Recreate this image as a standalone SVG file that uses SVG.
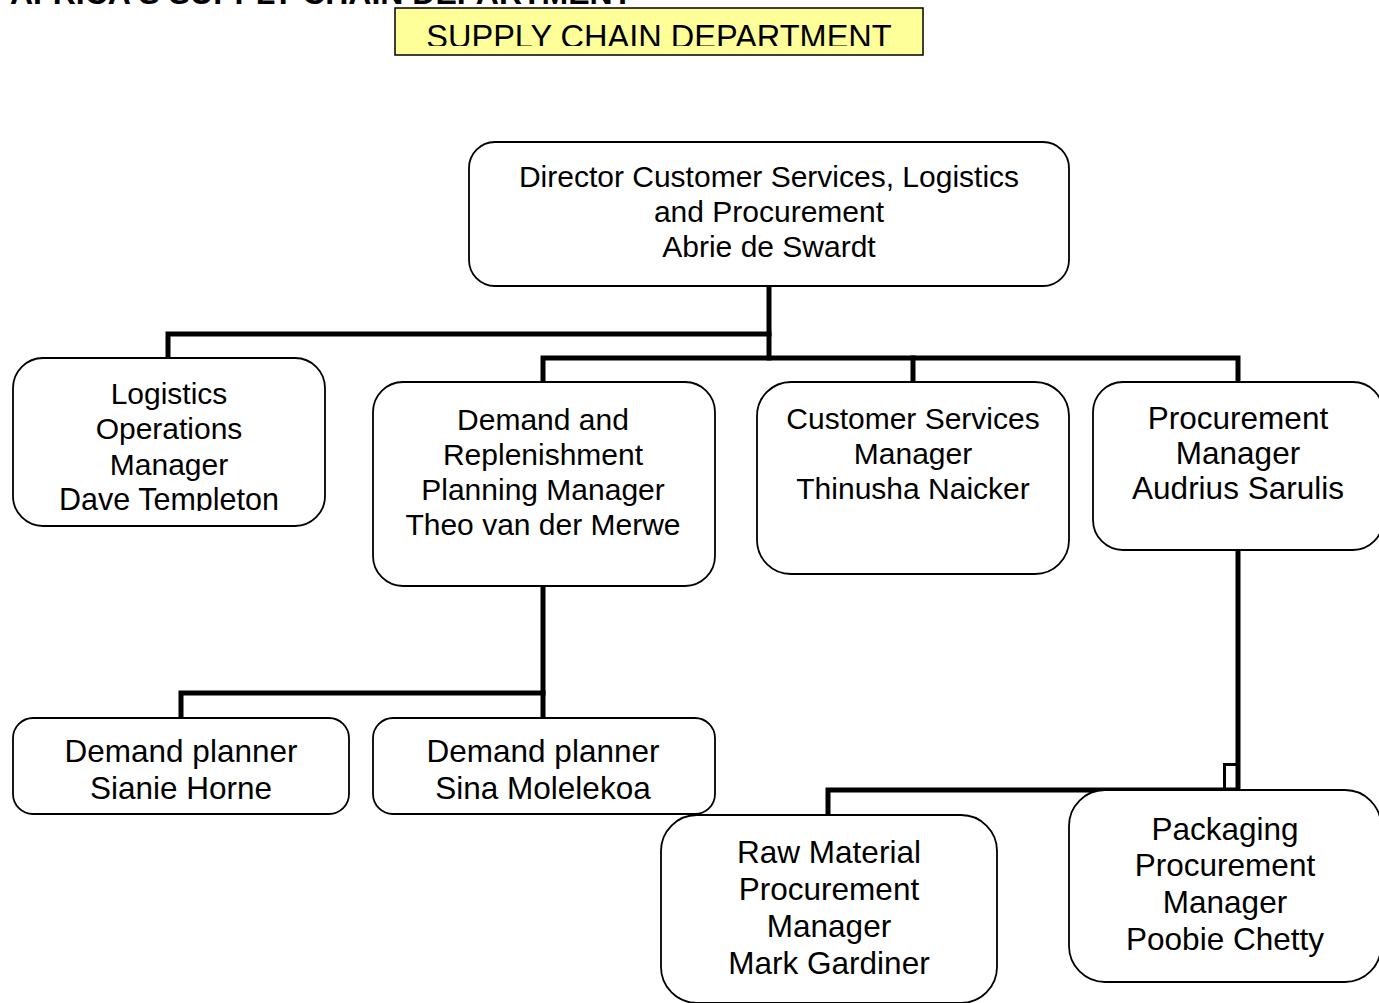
<svg xmlns="http://www.w3.org/2000/svg" width="1379" height="1003" viewBox="0 0 1379 1003">
<style>
  .box { fill: #ffffff; stroke: #000000; stroke-width: 1.8; }
  .t { font-family: "Liberation Sans", Arial, sans-serif; font-size: 30px; fill: #000000; text-anchor: middle; }
  .big { font-size: 31.5px; }
  .c { stroke: #000000; stroke-width: 5; fill: none; stroke-linecap: square; }
  .title { font-family: "Liberation Sans", Arial, sans-serif; font-size: 32px; font-weight: bold; fill: #000000; }
</style>
<defs>
  <clipPath id="clipHead"><rect x="396" y="9" width="526" height="37"/></clipPath>
  <clipPath id="clipLog"><rect x="14" y="359" width="310" height="152"/></clipPath>
  <clipPath id="clipSianie"><rect x="14" y="719" width="334" height="82"/></clipPath>
</defs>
<rect width="1379" height="1003" fill="#ffffff"/>

<text class="title" x="10" y="4">AFRICA'S SUPPLY CHAIN DEPARTMENT</text>

<g id="header">
  <rect x="395" y="8" width="528" height="47" fill="#ffff99" stroke="#000000" stroke-width="1.5"/>
  <text class="t" x="659" y="48" style="font-size:32.5px" clip-path="url(#clipHead)">SUPPLY CHAIN DEPARTMENT</text>
</g>

<g id="connectors">
  <path class="c" d="M769,288 V358"/>
  <path class="c" d="M168,358 V334 H769"/>
  <path class="c" d="M543,382 V358 H1238 V382"/>
  <path class="c" d="M913,358 V382"/>
  <path class="c" d="M543,588 V718"/>
  <path class="c" d="M181,718 V693 H543"/>
  <path class="c" d="M1238,552 V790 H828 V815"/>
  <path d="M1224.5,790 V764.5 H1236" stroke="#000000" stroke-width="3" fill="none"/>
</g>

<g id="director">
  <rect class="box" x="469" y="142" width="600" height="144" rx="26"/>
  <text class="t" x="769" y="187">Director Customer Services, Logistics</text>
  <text class="t" x="769" y="222">and Procurement</text>
  <text class="t" x="769" y="257">Abrie de Swardt</text>
</g>

<g id="logistics">
  <rect class="box" x="13" y="358" width="312" height="168" rx="30"/>
  <g clip-path="url(#clipLog)">
    <text class="t" x="169" y="404">Logistics</text>
    <text class="t" x="169" y="439">Operations</text>
    <text class="t" x="169" y="475">Manager</text>
    <text class="t" x="169" y="510" style="font-size:30.5px">Dave Templeton</text>
  </g>
</g>

<g id="demand">
  <rect class="box" x="373" y="382" width="342" height="204" rx="30"/>
  <text class="t" x="543" y="430">Demand and</text>
  <text class="t" x="543" y="465">Replenishment</text>
  <text class="t" x="543" y="500">Planning Manager</text>
  <text class="t" x="543" y="535">Theo van der Merwe</text>
</g>

<g id="customer">
  <rect class="box" x="757" y="382" width="312" height="192" rx="34"/>
  <text class="t" x="913" y="429">Customer Services</text>
  <text class="t" x="913" y="464">Manager</text>
  <text class="t" x="913" y="499">Thinusha Naicker</text>
</g>

<g id="procurement">
  <rect class="box" x="1093" y="382" width="290" height="168" rx="30"/>
  <text class="t big" x="1238" y="429">Procurement</text>
  <text class="t big" x="1238" y="464">Manager</text>
  <text class="t big" x="1238" y="499">Audrius Sarulis</text>
</g>

<g id="sianie">
  <rect class="box" x="13" y="718" width="336" height="96" rx="20"/>
  <g clip-path="url(#clipSianie)">
    <text class="t big" x="181" y="762">Demand planner</text>
    <text class="t big" x="181" y="799">Sianie Horne</text>
  </g>
</g>

<g id="sina">
  <rect class="box" x="373" y="718" width="342" height="96" rx="20"/>
  <text class="t big" x="543" y="762">Demand planner</text>
  <text class="t big" x="543" y="799">Sina Molelekoa</text>
</g>

<g id="rawmaterial">
  <rect class="box" x="661" y="815" width="336" height="188" rx="36"/>
  <text class="t big" x="829" y="863">Raw Material</text>
  <text class="t big" x="829" y="900">Procurement</text>
  <text class="t big" x="829" y="937">Manager</text>
  <text class="t big" x="829" y="974">Mark Gardiner</text>
</g>

<g id="packaging">
  <rect class="box" x="1069" y="790" width="312" height="192" rx="36"/>
  <text class="t big" x="1225" y="840">Packaging</text>
  <text class="t big" x="1225" y="876">Procurement</text>
  <text class="t big" x="1225" y="913">Manager</text>
  <text class="t big" x="1225" y="950">Poobie Chetty</text>
</g>
</svg>
